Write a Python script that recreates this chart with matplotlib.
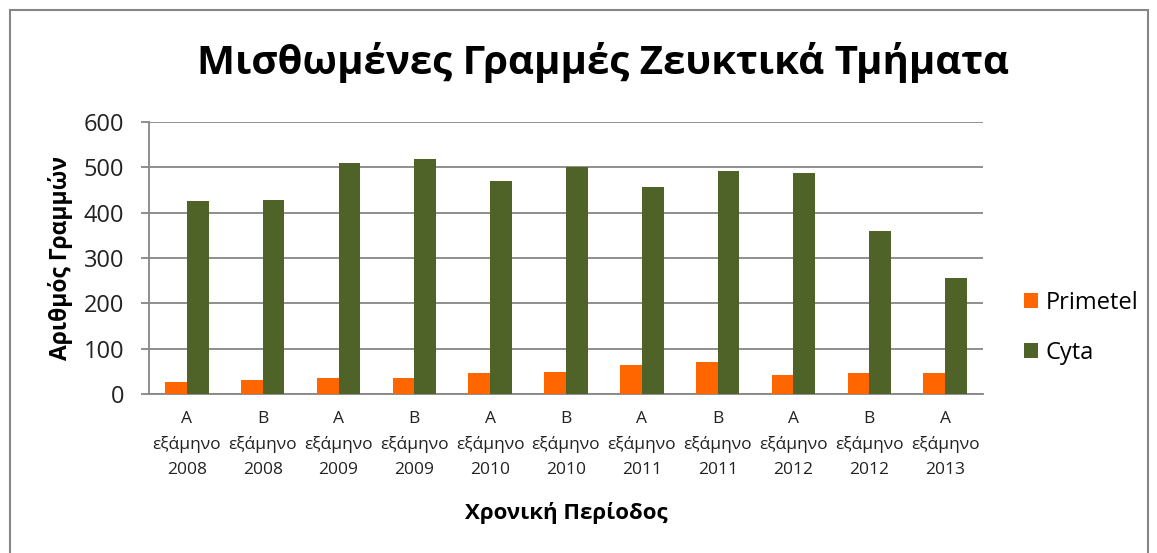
import matplotlib
matplotlib.use("Agg")
import matplotlib.pyplot as plt
import numpy as np
from matplotlib.patches import Rectangle

plt.rcParams['font.family'] = ['Open Sans', 'DejaVu Sans']

halves = ["Α", "Β", "Α", "Β", "Α", "Β", "Α", "Β", "Α", "Β", "Α"]
years = ["2008", "2008", "2009", "2009", "2010", "2010", "2011", "2011", "2012", "2012", "2013"]
categories = [f"{h}\nεξάμηνο\n{y}" for h, y in zip(halves, years)]
primetel = [26, 31, 35, 35, 46, 48, 65, 71, 43, 46, 46]
cyta = [425, 428, 510, 518, 470, 500, 456, 493, 487, 359, 255]

fig = plt.figure(figsize=(11.57, 5.53), dpi=100)
ax = fig.add_axes([149/1157, 1-394/553, (983-149)/1157, (394-122)/553])

x = np.arange(len(categories))
w = 0.287
ax.bar(x - w/2, primetel, w, color="#FF6600", label="Primetel", zorder=3)
ax.bar(x + w/2, cyta, w, color="#4F6228", label="Cyta", zorder=3)

ax.set_xlim(-0.5, len(categories) - 0.5)
ax.set_ylim(0, 600)
ax.set_yticks(range(0, 601, 100))
ax.yaxis.grid(True, color="#868686", linewidth=1.3, zorder=0)
ax.set_axisbelow(True)
for s in ["top", "right"]:
    ax.spines[s].set_visible(False)
for s in ["left", "bottom"]:
    ax.spines[s].set_color("#868686")
    ax.spines[s].set_linewidth(1.3)
ax.tick_params(axis="y", length=6, color="#868686", width=1.3, labelsize=17, pad=12,
               labelcolor="#222222")
ax.tick_params(axis="x", length=0, labelsize=12.5, pad=12, labelcolor="#222222")
ax.set_xticks(x)
ax.set_xticklabels(categories, linespacing=1.74)

ax.set_ylabel("Αριθμός Γραμμών", fontsize=16.5, fontweight="bold")
ax.yaxis.set_label_coords(73/1157, 1-258/553, transform=fig.transFigure)
ax.set_xlabel("Χρονική Περίοδος", fontsize=16, fontweight="bold")
ax.xaxis.set_label_coords(566/1157, 1-502/553, transform=fig.transFigure)
fig.text(0.521, 1-63/553, "Μισθωμένες Γραμμές Ζευκτικά Τμήματα", ha="center", va="center",
         fontsize=29, fontweight="bold")

ax.legend(loc="center left", bbox_to_anchor=(1003/1157, 1-328/553), bbox_transform=fig.transFigure,
          frameon=False, fontsize=17, handlelength=0.6, handleheight=0.6, labelspacing=1.1,
          handletextpad=0.3)

fig.patches.append(Rectangle((10/1157, -0.01), (1148-10)/1157, 1-10/553 + 0.01,
                             transform=fig.transFigure, fill=False, edgecolor="#868686", linewidth=1.5))

fig.savefig("out.png", dpi=100)
